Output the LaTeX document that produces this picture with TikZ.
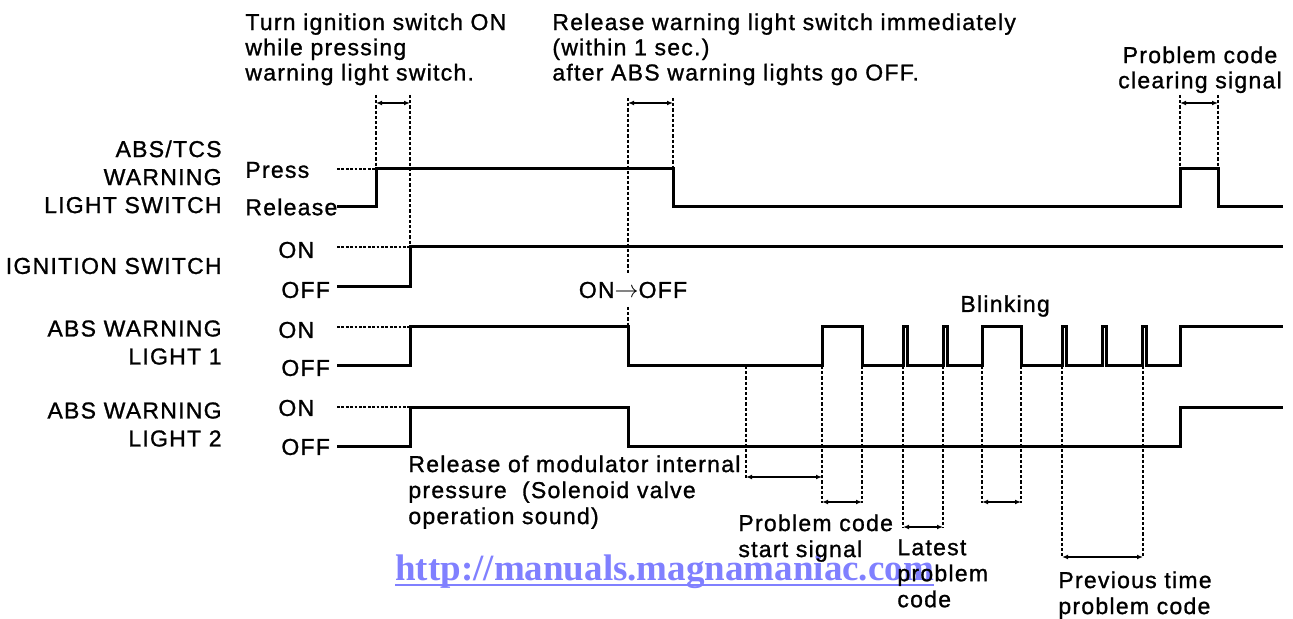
\documentclass[tikz,border=0pt]{standalone}
\usepackage{fontspec}
\setmainfont{Liberation Sans}[LetterSpace=5.5,FakeBold=1.1]
\newfontfamily\urlfont{Liberation Serif}
\usetikzlibrary{arrows.meta}
\definecolor{urlblue}{HTML}{8080FF}
\newcommand{\tightlines}{\lineskiplimit -20pt\relax}

\begin{document}
\begin{tikzpicture}[x=.5pt,y=-.5pt,>={Latex[length=3pt,width=2.4pt]},
 wave/.style={line width=1.5pt},
 guide/.style={line width=.75pt,dash pattern=on 1.6pt off 1pt},
 level/.style={line width=.6pt,dash pattern=on 1.4pt off .8pt},
 dimen/.style={<->,line width=.65pt},
 txt/.style={inner sep=0pt,font=\fontsize{11.5}{12.6}\selectfont\tightlines},
 note/.style={txt,align=left,anchor=north west,font=\fontsize{11.5}{13}\selectfont\tightlines},
 sig/.style={txt,align=right,anchor=north east,font=\fontsize{11.5}{14}\selectfont}]
 \useasboundingbox (0,0) rectangle (1293,619);
 \node[txt,anchor=base west,font=\urlfont\bfseries\fontsize{18.5}{20}\selectfont,text=urlblue] (url) at (395,580) {http://manuals.magnamaniac.com};
 \draw[urlblue,line width=1.4pt] ([yshift=-2.5pt]url.base west) -- ([yshift=-2.5pt]url.base east);
 \node[txt,align=left,anchor=north west] (turnon) at (245,13) {Turn ignition switch ON\\while pressing\\warning light switch.};
 \node[txt,align=left,anchor=north west] (release) at (552,13) {Release warning light switch immediately\\(within 1 sec.)\\after ABS warning lights go OFF.};
 \node[txt,align=center,anchor=north] (clearing) at (1200,46) {Problem code\\clearing signal};
 \node[sig] (swname) at (222,140) {ABS/TCS\\WARNING\\LIGHT SWITCH};
 \node[txt,anchor=east] (ignname) at (222,266) {IGNITION SWITCH};
 \node[sig] (lightone) at (222,320) {ABS WARNING\\LIGHT 1};
 \node[sig] (lighttwo) at (222,402) {ABS WARNING\\LIGHT 2};
 \node[txt,anchor=west] (press) at (245,170) {Press};
 \node[txt,anchor=west] (rel) at (245,207) {Release};
 \foreach \y/\n in {250/1,330/2,408/3} \node[txt,anchor=west] (on\n) at (278,\y) {ON};
 \foreach \y/\n in {290/1,368/2,447/3} \node[txt,anchor=west] (off\n) at (281,\y) {OFF};
 \node[txt] (onoff) at (633,290) {ON$\to$OFF};
 \node[txt,anchor=west] (blink) at (960,306) {Blinking};
 \node[note] (modulator) at (408,455) {Release of modulator internal\\pressure\ \ (Solenoid valve\\operation sound)};
 \node[note] (start) at (738,514) {Problem code\\start signal};
 \node[note] (latest) at (897,539) {Latest\\problem\\code};
 \node[note] (previous) at (1058,571) {Previous time\\problem code};
 \foreach \x/\y in {376/169,410/247,410/327,410/407} \draw[level] (337,\y) -- (\x,\y);
 \foreach \x/\a/\b in {376/95/169,410/95/247,673/98/169,1180/95/169,1218/95/169} \draw[guide] (\x,\a) -- (\x,\b);
 \draw[guide] (628,98) -- (628,273) (628,307) -- (628,327);
 \foreach \x/\b in {746/480,822/503,862/503,903/528,943/528,982/503,1021/503,1062/558,1143/558} \draw[guide] (\x,366) -- (\x,\b);
 \foreach \a/\b/\y in {376/410/103,628/673/103,1180/1218/103,746/822/477,822/862/502,903/943/527,982/1021/502,1062/1143/557} \draw[dimen] (\a,\y) -- (\b,\y);
 \draw[wave] (337,207) -| (376,169) -| (673,207) -| (1180,169) -| (1218,207) -- (1283,207);
 \draw[wave] (337,287) -| (410,247) -- (1283,247);
 \draw[wave] (337,366) -| (410,327) -| (628,366) -| (822,327) -| (862,366) -| (903,327) -| (907,366) -| (943,327) -| (947,366) -| (982,327) -| (1021,366) -| (1062,327) -| (1066,366) -| (1102,327) -| (1106,366) -| (1142,327) -| (1146,366) -| (1180,327) -- (1283,327);
 \draw[wave] (337,446) -| (410,407) -| (628,446) -| (1180,407) -- (1283,407);
\end{tikzpicture}
\end{document}
